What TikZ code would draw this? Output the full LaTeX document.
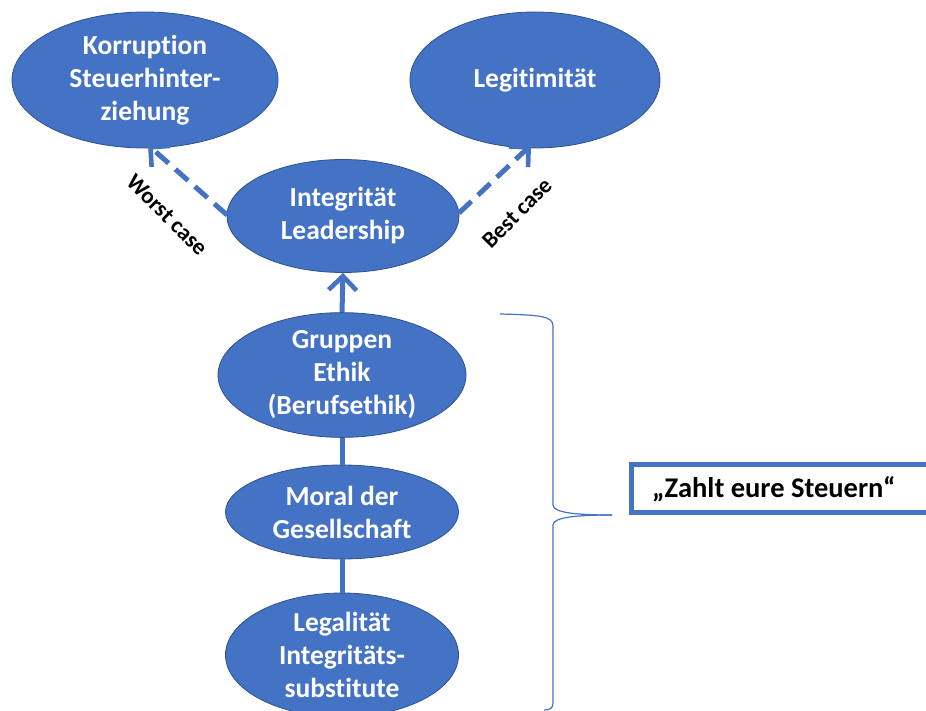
\documentclass[tikz,border=0pt]{standalone}
\usepackage{fontspec}
\setmainfont[Ligatures=NoCommon]{Carlito}
\usetikzlibrary{shapes.geometric,arrows.meta}
\definecolor{accent}{HTML}{4472C4}
\definecolor{accentdark}{HTML}{2F528F}
\tikzset{
  blob/.style={ellipse, fill=accent, draw=accentdark, line width=0.8pt, inner sep=0pt,
    text=white, align=center, font=\bfseries\fontsize{27.5}{33}\selectfont},
  link/.style={draw=accent, line width=5pt},
  tipstyle/.style={-{Straight Barb[length=14pt,width=28pt,line width=4.6pt]}},
  dashlink/.style={link, dash pattern=on 17pt off 9pt, tipstyle},
  uplink/.style={link, tipstyle},
  caselabel/.style={font=\bfseries\fontsize{23}{26}\selectfont, text=black},
}
\begin{document}
\begin{tikzpicture}[x=1pt, y=-1pt]
  \useasboundingbox (0,0) rectangle (926,711);

  % outcome ellipses
  \node[blob, minimum width=266pt, minimum height=136pt] (korr) at (145,80)
    {Korruption\\Steuerhinter-\\ziehung};
  \node[blob, minimum width=250pt, minimum height=136pt] (legit) at (535,80) {Legitimität};

  % chain of ethical layers
  \node[blob, minimum width=232pt, minimum height=113pt] (integ) at (343,216)
    {Integrität\\Leadership};
  \node[blob, minimum width=248pt, minimum height=113pt] (grup) at (342,375)
    {Gruppen\\Ethik\\(Berufsethik)};
  \node[blob, minimum width=233pt, minimum height=94pt] (moral) at (342,512)
    {Moral der\\Gesellschaft};
  \node[blob, minimum width=233pt, minimum height=124pt] (legal) at (342,655)
    {Legalität\\Integritäts-\\substitute};

  % connectors
  \coordinate (wsrc) at (227,215);
  \coordinate (wdst) at (148,145);
  \coordinate (bsrc) at (459,213);
  \coordinate (bdst) at (531,145);
  \draw[dashlink] (wsrc) -- (wdst);
  \draw[dashlink] (bsrc) -- (bdst);
  \draw[uplink] (grup.north) -- (integ.south);
  \draw[link] (grup.south) -- (moral.north);
  \draw[link] (moral.south) -- (legal.north);

  % case labels
  \node[caselabel, rotate=-45] (worst) at (167,215) {Worst case};
  \node[caselabel, rotate=45] (best) at (517,213) {Best case};

  % curly brace grouping the lower layers
  \draw[accent, line width=1.2pt]
    (500,314) .. controls (540,315) and (553,316) .. (553,326)
    -- (553,505) .. controls (553,513) and (578,515) .. (612,515);
  \draw[accent, line width=1.2pt]
    (612,515) .. controls (578,515) and (553,517) .. (553,525)
    -- (553,703) .. controls (553,708) and (550,710) .. (544,710);

  % slogan box
  \node[draw=accent, line width=5pt, fill=white, minimum width=310pt, minimum height=48pt,
        anchor=west, inner sep=0pt] (slogan) at (629,488) {};
  \node[font=\bfseries\fontsize{28.5}{30}\selectfont, anchor=west, inner sep=0pt] (slogantext) at (652,489)
    {„Zahlt eure Steuern“};
\end{tikzpicture}
\end{document}
